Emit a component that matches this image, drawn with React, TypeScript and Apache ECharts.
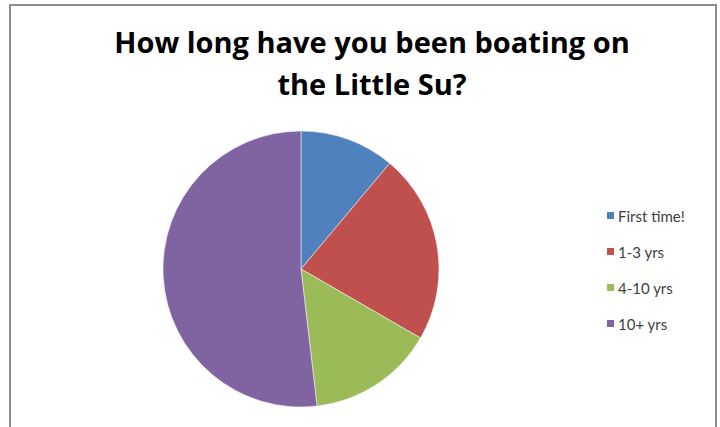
import React, { useEffect, useRef } from "react";
import * as echarts from "echarts";

const TITLE_LINES = ["How long have you been boating on", "the Little Su?"];
const CATEGORIES = ["First time!", "1-3 yrs", "4-10 yrs", "10+ yrs"];
const COUNTS = [3, 6, 4, 14];
const COLORS = ["#4F81BD", "#C0504D", "#9BBB59", "#8064A2"];

export default function App() {
  const ref = useRef<HTMLDivElement>(null);
  useEffect(() => {
    if (!ref.current) return;
    const chart = echarts.init(ref.current, undefined, { renderer: "svg" });
    chart.setOption({
      animation: false,
      backgroundColor: "#ffffff",
      color: COLORS,
      title: {
        text: TITLE_LINES.join("\n"),
        left: 367,
        top: 15,
        textAlign: "center",
        textStyle: {
          fontFamily: "Open Sans",
          fontWeight: "bold",
          fontSize: 29,
          lineHeight: 42,
          color: "#000000",
        },
      },
      legend: {
        orient: "vertical",
        left: 600,
        top: 203,
        itemWidth: 9,
        itemHeight: 9,
        itemGap: 21,
        icon: "rect",
        data: CATEGORIES,
        textStyle: {
          fontFamily: "Lato",
          fontSize: 15,
          color: "#404040",
          padding: [0, 0, 0, -2],
        },
      },
      graphic: [
        {
          type: "polyline",
          shape: { points: [[10, 430], [10, 5], [716, 5], [716, 430]] },
          style: { stroke: "#8c8c8c", lineWidth: 2, fill: "none" },
          silent: true,
        },
      ],
      series: [
        {
          type: "pie",
          center: [301, 269],
          radius: 138,
          startAngle: 90,
          clockwise: true,
          label: { show: false },
          labelLine: { show: false },
          itemStyle: { borderColor: "#ffffff", borderWidth: 0.5 },
          emphasis: { disabled: true },
          data: CATEGORIES.map((name, i) => ({ name, value: COUNTS[i] })),
        },
      ],
    });
    return () => chart.dispose();
  }, []);
  return <div ref={ref} style={{ width: 720, height: 427, position: "absolute", left: 0, top: 0 }} />;
}
